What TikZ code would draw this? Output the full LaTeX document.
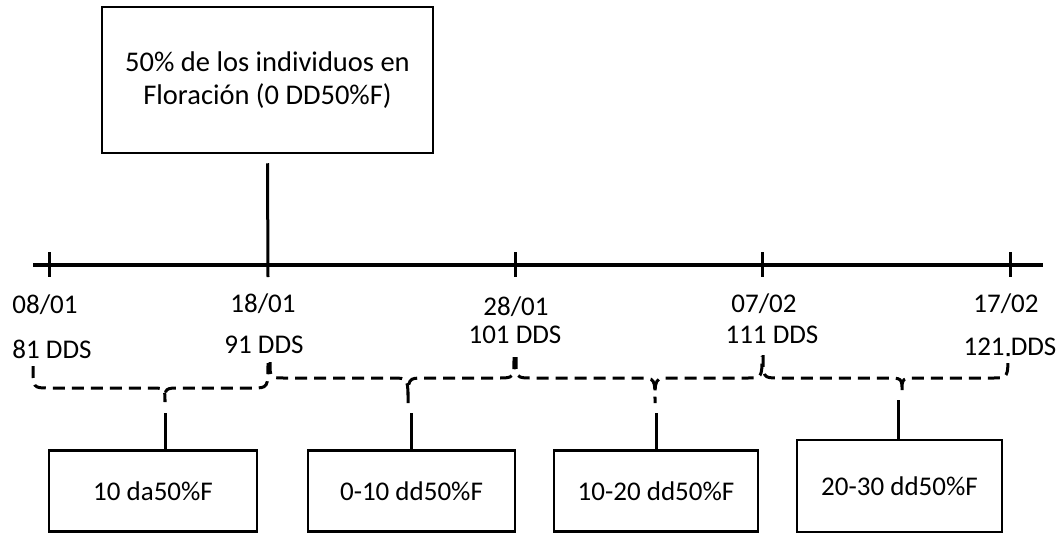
\documentclass[tikz,border=0pt]{standalone}
\usepackage{fontspec}
\setmainfont{Carlito}
\begin{document}
\begin{tikzpicture}[x=1pt,y=-1pt,
  every node/.style={font=\fontsize{27}{32}\selectfont, inner sep=0pt},
  boxnode/.style={draw, line width=2.5pt, rectangle},
  axisline/.style={line width=3.2pt},
  tickline/.style={line width=3pt},
  conn/.style={line width=3pt},
  bracepath/.style={line width=3pt, dash pattern=on 12pt off 7pt},
  lbl/.style={anchor=base}]
\useasboundingbox (0,0) rectangle (1061,533);

% top box
\node[boxnode, minimum width=331pt, minimum height=146pt, align=center,
  font=\fontsize{28.5}{33}\selectfont] (top) at (267.5,80)
  {50\% de los individuos en\\Floración (0 DD50\%F)};

% axis
\coordinate (a0) at (33,265);
\coordinate (a1) at (1043,265);
\coordinate (t1) at (49,265);
\coordinate (t2) at (268,265);
\coordinate (t3) at (515,265);
\coordinate (t4) at (762,265);
\coordinate (t5) at (1010,265);
\draw[axisline] (a0) -- (a1);
\foreach \t in {t1,t3,t4,t5}{
  \draw[tickline] ([yshift=13pt]\t) -- ([yshift=-12pt]\t);
}
\draw[tickline] ([yshift=-9pt]top.south) -- ([yshift=-12pt]t2);

% labels
\node[lbl] (d1) at (45,313) {08/01};
\node[lbl] (g1) at (52,358) {81 DDS};
\node[lbl] (d2) at (263,312) {18/01};
\node[lbl] (g2) at (264,353) {91 DDS};
\node[lbl] (d3) at (516,315) {28/01};
\node[lbl] (g3) at (515,343) {101 DDS};
\node[lbl] (d4) at (764,312) {07/02};
\node[lbl] (g4) at (772,343) {111 DDS};
\node[lbl] (d5) at (1006,312) {17/02};
\node[lbl] (g5) at (1010,355) {121 DDS};

% braces
\newcommand{\mybrace}[7]{%
  % #1,#2 start; #3,#4 end; #5 horizontal y; #6 tip x; #7 tip y
  \draw[bracepath] (#1,#2) .. controls (#1,#5) and (#1,#5) .. (#1+16,#5)
     -- (#6-16,#5) .. controls (#6,#5) and (#6,#5) .. (#6,#7)
     .. controls (#6,#5) and (#6,#5) .. (#6+16,#5)
     -- (#3-16,#5) .. controls (#3,#5) and (#3,#5) .. (#3,#4);}
\mybrace{33}{366}{268}{363}{388}{165}{402}
\mybrace{270}{362}{514}{357}{378}{408}{403}
\mybrace{516}{357}{762}{356}{378}{655}{403}
\mybrace{763}{355}{1008}{353}{378}{902}{392}

% bottom boxes
\node[boxnode, minimum width=208pt, minimum height=81pt] (b1) at (153,491) {10 da50\%F};
\node[boxnode, minimum width=207pt, minimum height=81pt] (b2) at (411.5,491) {0-10 dd50\%F};
\node[boxnode, minimum width=204pt, minimum height=81pt] (b3) at (656,491) {10-20 dd50\%F};
\node[boxnode, minimum width=205pt, minimum height=92pt] (b4) at (899.5,486) {20-30 dd50\%F};

\coordinate (s1) at (165,413);
\coordinate (s2) at (411,413);
\coordinate (s3) at (656,413);
\coordinate (s4) at (898,400);
\draw[conn] (s1) -- (s1 |- b1.north);
\draw[conn] (s2) -- (s2 |- b2.north);
\draw[conn] (s3) -- (s3 |- b3.north);
\draw[conn] (s4) -- (s4 |- b4.north);
\end{tikzpicture}
\end{document}
